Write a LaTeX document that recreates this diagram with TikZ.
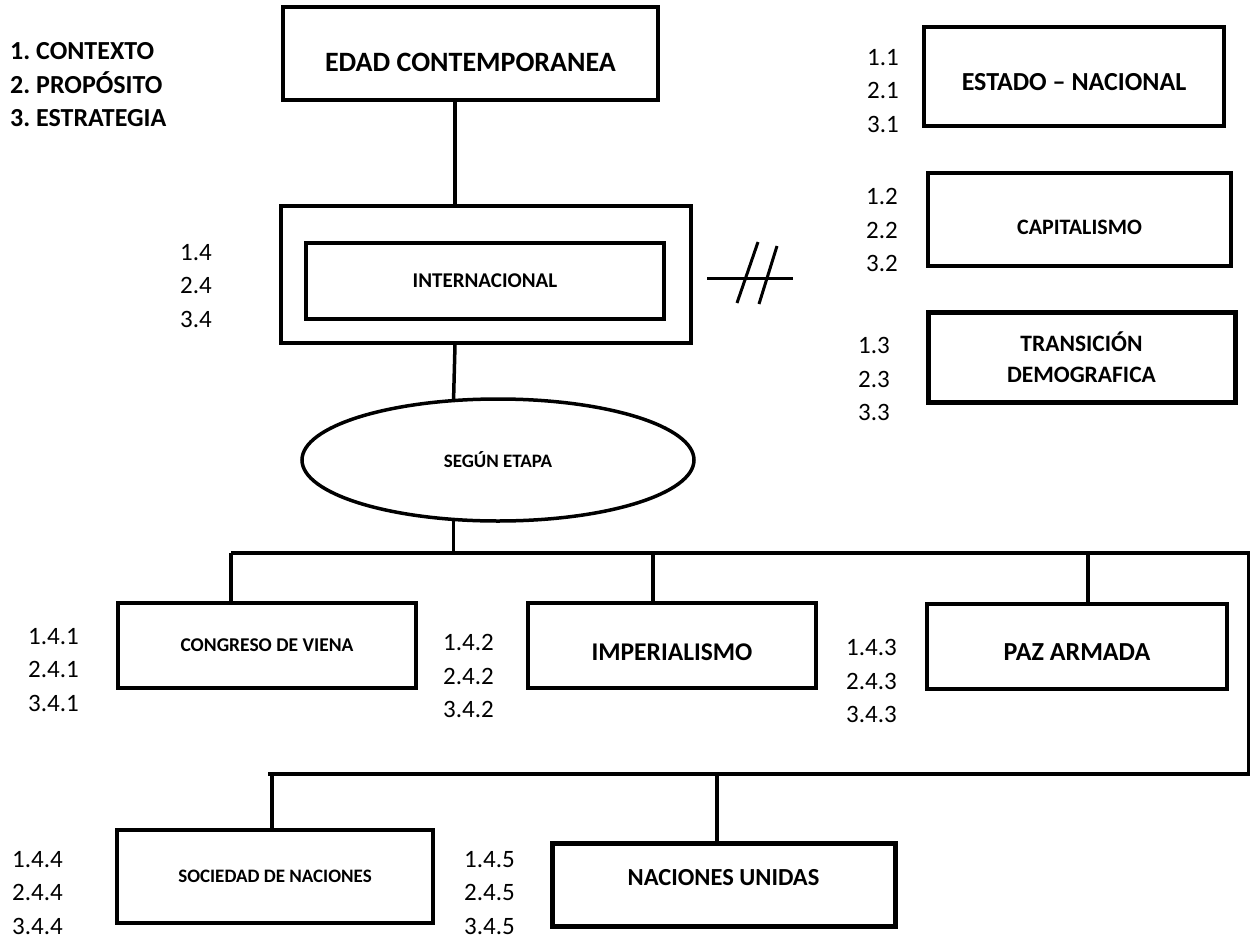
\documentclass[tikz,border=0pt]{standalone}
\usepackage{fontspec}
\setmainfont{Carlito}
\usetikzlibrary{shapes.geometric}
\frenchspacing
\begin{document}
\begin{tikzpicture}[x=1pt,y=-1pt,
  bx/.style={draw, line width=3.5pt, rectangle, inner sep=0pt, align=center},
  lbl/.style={anchor=west, align=left, inner sep=0pt, font=\fontsize{25}{33.5}\selectfont},
  wire/.style={line width=3.5pt},
  tdown/.style={text height=#1, text depth=0pt},
  fs/.style={font=\fontsize{#1}{#1}\selectfont\bfseries}]
\useasboundingbox (0,0) rectangle (1251,940);

% legend
\node[anchor=west, align=left, inner sep=0pt, font=\fontsize{26}{33.5}\selectfont\bfseries] (legend) at (10,85) {1. CONTEXTO\\2. PROPÓSITO\\3. ESTRATEGIA};

% top box
\node[bx, fs=28, minimum width=375pt, minimum height=93pt, tdown=35pt] (edad) at (470.5,53.5) {EDAD CONTEMPORANEA};

% internacional
\node[bx, minimum width=410pt, minimum height=137pt] (outer) at (486,274.5) {};
\node[bx, fs=21, minimum width=358pt, minimum height=76pt] (intl) at (485,281) {INTERNACIONAL};
\node[lbl] (n14) at (180,286) {1.4\\2.4\\3.4};

% right boxes
\node[bx, fs=26, minimum width=300pt, minimum height=99pt, tdown=27.7pt] (estado) at (1074,76.5) {ESTADO – NACIONAL};
\node[lbl] (n11) at (867,91) {1.1\\2.1\\3.1};
\node[bx, fs=22, minimum width=303pt, minimum height=93pt, tdown=29pt] (capital) at (1079.5,219.5) {CAPITALISMO};
\node[lbl] (n12) at (866,230) {1.2\\2.2\\3.2};
\node[bx, line width=5pt, font=\fontsize{23.5}{31}\selectfont\bfseries, minimum width=307pt, minimum height=90pt] (trans) at (1081.5,357) {TRANSICIÓN\\DEMOGRAFICA};
\node[lbl] (n13) at (858,379) {1.3\\2.3\\3.3};

% not-equal sign
\draw[line width=3pt] (707,278) -- (793,278);
\draw[line width=3pt] (758,242) -- (737,303);
\draw[line width=3pt] (777,246) -- (759,304);

% ellipse
\node[draw, ellipse, line width=3.5pt, inner sep=0pt, fs=19, minimum width=392pt, minimum height=122pt] (ell) at (498,460) {SEGÚN ETAPA};

% connectors top
\coordinate (v1) at (455,0);
\draw[wire] (edad.south -| v1) -- (outer.north -| v1);
\draw[wire] (outer.south -| v1) -- (ell.126);

% middle row
\node[bx, fs=19.5, minimum width=298pt, minimum height=85pt] (cong) at (267,645.5) {CONGRESO DE VIENA};
\node[lbl] (n141) at (28,670) {1.4.1\\2.4.1\\3.4.1};
\node[bx, fs=25.5, minimum width=288pt, minimum height=85pt, tdown=29.5pt] (imp) at (672,645.5) {IMPERIALISMO};
\node[lbl] (n142) at (443,676) {1.4.2\\2.4.2\\3.4.2};
\node[bx, fs=26, minimum width=300pt, minimum height=85pt, tdown=28pt] (paz) at (1077,646.5) {PAZ ARMADA};
\node[lbl] (n143) at (846,681) {1.4.3\\2.4.3\\3.4.3};

% bottom row
\node[bx, fs=19, minimum width=316pt, minimum height=93pt] (soc) at (275,876.5) {SOCIEDAD DE NACIONES};
\node[lbl] (n144) at (12,893) {1.4.4\\2.4.4\\3.4.4};
\node[bx, line width=5pt, fs=24.5, minimum width=343pt, minimum height=83pt, text height=16pt, text depth=15pt] (nu) at (723.5,884.5) {NACIONES UNIDAS};
\node[lbl] (n145) at (464,893) {1.4.5\\2.4.5\\3.4.5};

% bus lines
\coordinate (bL) at (231,553);
\coordinate (bR) at (1248.5,553);
\coordinate (cR) at (1248.5,774);
\coordinate (cL) at (268,774);
\coordinate (d2) at (653,553);
\coordinate (d3) at (1088,553);
\coordinate (d4) at (272,774);
\coordinate (d5) at (717,774);
\draw[wire] (ell.234) -- (ell.234 |- bL);
\draw[wire, line join=miter] (bL) -- (bR) -- (cR) -- (cL);
\draw[wire] (bL) -- (cong.north -| bL);
\draw[wire] (d2) -- (imp.north -| d2);
\draw[wire] (d3) -- (paz.north -| d3);
\draw[wire] (d4) -- (soc.north -| d4);
\draw[wire] (d5) -- (nu.north -| d5);
\end{tikzpicture}
\end{document}
